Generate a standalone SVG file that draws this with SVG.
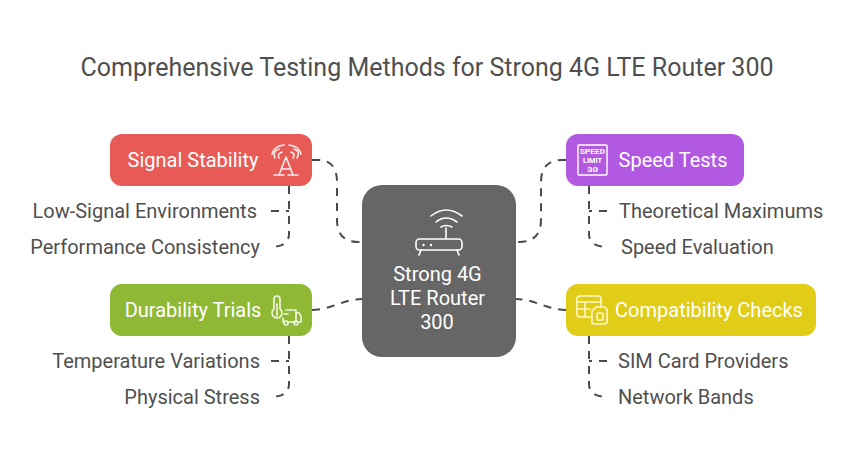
<svg xmlns="http://www.w3.org/2000/svg" width="854" height="458" viewBox="0 0 854 458">
<style>
text{font-family:Roboto,"Liberation Sans",sans-serif}
.title{font-size:25px;fill:#4f4f4f;text-anchor:middle}
.lbl{font-size:20px;fill:#fff;text-anchor:middle}
.sub{font-size:20px;fill:#4f4f4f}
.end{text-anchor:end}
.conn{fill:none;stroke:#4a4a4a;stroke-width:2;stroke-dasharray:8 7}
.ic{fill:none;stroke:#fff;stroke-width:1.6;stroke-linecap:round;stroke-linejoin:round}
.red .ic{stroke:#fdeeee}.grn .ic{stroke:#f2f8e4}.yel .ic{stroke:#fdf8cf}
.spd{font-size:7.600px;font-weight:700;fill:#fff;text-anchor:middle}
</style>
<rect width="854" height="458" fill="#fff"/>
<text class="title" x="427" y="76">Comprehensive Testing Methods for Strong 4G LTE Router 300</text>
<g id="connectors">
<path class="conn" d="M312 160H318Q337 160 337 182V220Q337 242 359 242H362"/>
<path class="conn" d="M566 160H562Q541 160 541 182V220Q541 242 519 242H516"/>
<path class="conn" d="M312 310C330 310 344 299 362 299"/>
<path class="conn" d="M566 310C548 310 534 299 516 299"/>
<path class="conn" d="M289 186V234Q289 247 270 247"/>
<path class="conn" d="M271 211H289"/>
<path class="conn" d="M289 336V384Q289 397 270 397"/>
<path class="conn" d="M271 361H289"/>
<path class="conn" d="M589 186V234Q589 247 608 247"/>
<path class="conn" d="M607 211H589"/>
<path class="conn" d="M589 336V384Q589 397 608 397"/>
<path class="conn" d="M607 361H589"/>
</g>
<g id="node-center">
<rect x="362" y="185" width="154" height="172" rx="20" fill="#666"/>
<g class="ic">
<path d="M431 216Q446 204 462 216"/><path d="M436 222Q446 214 457 222"/><path d="M441 227Q446 224 452 227"/>
<path d="M446 228V238"/>
<rect x="416" y="239" width="46" height="11" rx="3.500"/>
<path d="M421 250L419 255M457 250L459 255"/>
</g>
<circle cx="423.500" cy="245" r="1.200" fill="#fff"/><circle cx="431" cy="245" r="1.200" fill="#fff"/>
<text class="lbl" x="437.500" y="281">Strong 4G</text>
<text class="lbl" x="437.500" y="305">LTE Router</text>
<text class="lbl" x="437" y="329">300</text>
</g>
<g id="node-signal" class="red">
<rect x="110" y="134" width="202" height="52" rx="12" fill="#e85a55"/>
<text class="lbl" x="193" y="167">Signal Stability</text>
<g class="ic">
<path d="M279 175L286 157L293 175M282 169H291M274 175H284M288 175H298"/>
<path d="M275 158Q272 151 279 149M279 158Q277 154 282 152M297 158Q301 151 294 149M293 158Q296 154 291 152"/>
<path d="M272 154Q274 146 284 145M301 154Q299 146 289 145"/>
</g>
</g>
<g id="node-durability" class="grn">
<rect x="110" y="284" width="202" height="52" rx="12" fill="#8fb935"/>
<text class="lbl" x="193" y="317">Durability Trials</text>
<g class="ic">
<path d="M274 309V299Q274 296 277 296Q280 296 280 299V309A5 5 0 1 1 274 309Z"/>
<path d="M277 304V316"/>
<path d="M286 310H296V322H293M296 313H299L301 316V322H299M289 322H293M283 322V318M284 314H288"/>
<circle cx="286" cy="323" r="2"/><circle cx="296" cy="323" r="2"/>
</g>
</g>
<g id="node-speed">
<rect x="566" y="134" width="178" height="52" rx="12" fill="#b259e2"/>
<text class="lbl" x="673" y="167">Speed Tests</text>
<rect x="578" y="145" width="29" height="30" rx="1" fill="none" stroke="#fff" stroke-width="1.400"/>
<text class="spd" x="592.500" y="154" textLength="25" lengthAdjust="spacingAndGlyphs">SPEED</text>
<text class="spd" x="592.500" y="163" textLength="19" lengthAdjust="spacingAndGlyphs">LIMIT</text>
<text class="spd" x="592.500" y="172" textLength="11" lengthAdjust="spacingAndGlyphs">30</text>
</g>
<g id="node-compat" class="yel">
<rect x="566" y="284" width="250" height="52" rx="12" fill="#e1cd17"/>
<text class="lbl" x="709" y="317">Compatibility Checks</text>
<g class="ic">
<path d="M601 306V299Q601 296 598 296H580Q577 296 577 299V314Q577 317 580 317H590"/>
<path d="M577 302H601M577 309H590M585 302V317"/>
<path d="M592 311L596 307H603Q607 307 607 311V322Q607 324 605 324H594Q592 324 592 322Z"/>
<rect x="597" y="313" width="6" height="7" rx="1"/>
</g>
</g>
<g id="item-low"><text class="sub end" x="257" y="218">Low-Signal Environments</text></g>
<g id="item-perf"><text class="sub end" x="260" y="254">Performance Consistency</text></g>
<g id="item-temp"><text class="sub end" x="260" y="368">Temperature Variations</text></g>
<g id="item-stress"><text class="sub end" x="260" y="404">Physical Stress</text></g>
<g id="item-theo"><text class="sub" x="619" y="218">Theoretical Maximums</text></g>
<g id="item-eval"><text class="sub" x="621" y="254">Speed Evaluation</text></g>
<g id="item-sim"><text class="sub" x="618" y="368">SIM Card Providers</text></g>
<g id="item-bands"><text class="sub" x="618" y="404">Network Bands</text></g>
</svg>
